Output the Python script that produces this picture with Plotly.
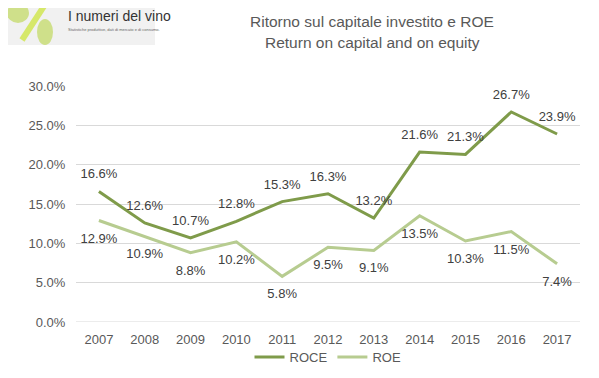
import plotly.graph_objects as go

years = ["2007", "2008", "2009", "2010", "2011", "2012", "2013", "2014", "2015", "2016", "2017"]
roce = [16.6, 12.6, 10.7, 12.8, 15.3, 16.3, 13.2, 21.6, 21.3, 26.7, 23.9]
roe = [12.9, 10.9, 8.8, 10.2, 5.8, 9.5, 9.1, 13.5, 10.3, 11.5, 7.4]
y_ticks = [0, 5, 10, 15, 20, 25, 30]
y_ticktext = ["0.0%", "5.0%", "10.0%", "15.0%", "20.0%", "25.0%", "30.0%"]

FONT = "Liberation Sans, Arial, sans-serif"
c_roce = "#7f9b4a"
c_roe = "#b7cc90"

# page has an 8px body margin; work in page pixel coords and convert
OFF = 8
W, H = 599 - OFF, 378 - OFF
L, T = 76 - OFF, 86 - OFF
R = W - (580 - OFF)
B = H - (322 - OFF)
PW, PH = W - L - R, H - T - B


def px(x):
    return (x - OFF - L) / PW


def py(y):
    return (H - B - (y - OFF)) / PH


fig = go.Figure()
fig.add_trace(go.Scatter(
    x=years, y=roce, name="ROCE", mode="lines+markers+text",
    line=dict(color=c_roce, width=3),
    marker=dict(size=14, color="rgba(0,0,0,0)"),
    text=[f"{v:.1f}%" for v in roce], textposition="top center",
    textfont=dict(family=FONT, size=13, color="#404040"),
))
fig.add_trace(go.Scatter(
    x=years, y=roe, name="ROE", mode="lines+markers+text",
    line=dict(color=c_roe, width=3),
    marker=dict(size=18, color="rgba(0,0,0,0)"),
    text=[f"{v:.1f}%" for v in roe], textposition="bottom center",
    textfont=dict(family=FONT, size=13, color="#404040"),
))

fig.update_layout(
    width=W, height=H,
    margin=dict(l=L, r=R, t=T, b=B, autoexpand=False),
    paper_bgcolor="white", plot_bgcolor="white",
    font=dict(family=FONT, color="#595959"),
    showlegend=True,
    legend=dict(orientation="h", x=0.5, xanchor="center", y=py(357), yanchor="middle",
                bgcolor="rgba(0,0,0,0)",
                font=dict(family=FONT, size=13, color="#595959"), itemwidth=30,
                traceorder="normal"),
    xaxis=dict(type="category", range=[-0.5, 10.5], showgrid=False, showline=False,
               ticks="outside", ticklen=5, tickcolor="rgba(0,0,0,0)",
               tickfont=dict(family=FONT, size=13, color="#595959")),
    yaxis=dict(range=[0, 30], tickvals=y_ticks, ticktext=y_ticktext,
               showgrid=True, gridcolor="#d9d9d9", gridwidth=1, zeroline=False,
               showline=False, ticks="outside", ticklen=7, tickcolor="rgba(0,0,0,0)",
               tickfont=dict(family=FONT, size=13, color="#595959")),
    shapes=[
        dict(type="line", xref="paper", yref="y", x0=0, x1=1, y0=0, y1=0,
             line=dict(color="#d9d9d9", width=1)),
        # logo background
        dict(type="rect", xref="paper", yref="paper", x0=px(0), x1=px(155),
             y0=py(45), y1=py(0), line=dict(width=0), fillcolor="#f1f1f1", layer="below"),
        # slash
        dict(type="line", xref="paper", yref="paper", x0=px(22), x1=px(46),
             y0=py(40), y1=py(3), line=dict(color="#d6e86a", width=6)),
        # grapes
        dict(type="circle", xref="paper", yref="paper", x0=px(7), x1=px(29),
             y0=py(23), y1=py(3), line=dict(width=0), fillcolor="#cfe08a"),
        dict(type="circle", xref="paper", yref="paper", x0=px(37), x1=px(53),
             y0=py(45), y1=py(19), line=dict(width=0), fillcolor="#cfe08a"),
    ],
    annotations=[
        dict(text="Ritorno sul capitale investito e ROE",
             xref="paper", yref="paper", x=px(372), y=py(21),
             xanchor="center", yanchor="middle", showarrow=False,
             font=dict(family=FONT, size=15.5, color="#595959")),
        dict(text="Return on capital and on equity",
             xref="paper", yref="paper", x=px(372), y=py(42),
             xanchor="center", yanchor="middle", showarrow=False,
             font=dict(family=FONT, size=15.5, color="#595959")),
        dict(text="I numeri del vino", xref="paper", yref="paper",
             x=px(66), y=py(16), xanchor="left", yanchor="middle",
             showarrow=False, font=dict(family=FONT, size=14, color="#333333")),
        dict(text="Statistiche produttive, dati di mercato e di consumo.", xref="paper", yref="paper",
             x=px(66), y=py(30), xanchor="left", yanchor="middle",
             showarrow=False, font=dict(family=FONT, size=4, color="#666666")),
    ],
)

fig.write_html("out.html")
